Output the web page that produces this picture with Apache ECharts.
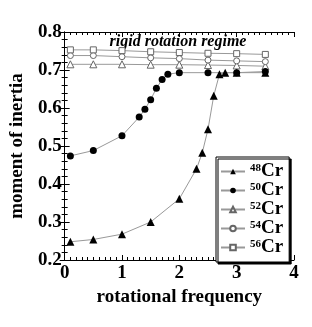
<!DOCTYPE html>
<html><head><meta charset="utf-8">
<script src="https://cdn.jsdelivr.net/npm/echarts@6/dist/echarts.min.js"></script>
<style>html,body{margin:0;padding:0;background:#fff}#c{width:312px;height:327px}</style>
</head><body><div id="c"></div>
<script>
const names = ['48Cr','50Cr','52Cr','54Cr','56Cr'];
const x48 = [0.1,0.5,1.0,1.5,2.0,2.3,2.4,2.5,2.6,2.7,2.8,3.0,3.5];
const y48 = [0.248,0.254,0.268,0.300,0.361,0.440,0.482,0.544,0.632,0.689,0.693,0.693,0.693];
const x50 = [0.1,0.5,1.0,1.3,1.4,1.5,1.6,1.7,1.8,2.0,2.5,3.0,3.5];
const y50 = [0.474,0.488,0.527,0.576,0.597,0.622,0.652,0.675,0.689,0.693,0.693,0.693,0.696];
const xOpen = [0.1,0.5,1.0,1.5,2.0,2.5,3.0,3.5];
const y52 = [0.715,0.715,0.715,0.714,0.714,0.713,0.712,0.710];
const y54 = [0.738,0.738,0.735,0.732,0.730,0.726,0.724,0.722];
const y56 = [0.753,0.753,0.751,0.748,0.746,0.744,0.743,0.741];
const xTicks = [0,1,2,3,4];
const yTicks = [0.2,0.3,0.4,0.5,0.6,0.7,0.8];
const titleText = 'rigid rotation regime';

const FONT = 'Liberation Serif';
const pair = (xs, ys) => xs.map((v,i)=>[v, ys[i]]);
const lineStyle = {color:'#999', width:1};
function mk(name, data, symbol, size, filled){
  return {
    name, type:'line', data, symbol, symbolSize:size, showSymbol:true,
    lineStyle, z: filled?3:2,
    itemStyle: filled ? {color:'#000', borderColor:'#000', borderWidth:0}
                      : {color:'#fff', borderColor:'#666', borderWidth:1},
    emphasis:{disabled:true}
  };
}
const chart = echarts.init(document.getElementById('c'));
const axisCommon = {
  axisLine:{lineStyle:{color:'#000', width:1}},
  splitLine:{show:false}
};
chart.setOption({
  animation:false,
  backgroundColor:'#fff',
  grid:{left:64, top:32, width:230, height:228},
  graphic:[{type:'text', style:{x:178, y:42, text:titleText, align:'center', verticalAlign:'middle',
    font:'italic bold 16px "Liberation Serif"', fill:'#000'}}],
  legend:{
    orient:'vertical', left:216, top:157,
    data:names,
    padding:[5,6,5,4], itemGap:0, itemWidth:24, itemHeight:7,
    backgroundColor:'#fff', borderColor:'#000', borderWidth:1,
    shadowColor:'#000', shadowBlur:0, shadowOffsetX:2, shadowOffsetY:2,
    formatter: n => '{s|' + n.slice(0,2) + '}{e|' + n.slice(2) + '}',
    textStyle:{
      rich:{
        s:{fontFamily:FONT, fontWeight:'bold', fontSize:11, color:'#000', verticalAlign:'top', lineHeight:17, padding:[0,0,6,0]},
        e:{fontFamily:FONT, fontWeight:'bold', fontSize:19, color:'#000', lineHeight:17}
      }
    }
  },
  xAxis:[{
    type:'value', min:xTicks[0], max:xTicks[xTicks.length-1], interval:1, position:'bottom',
    ...axisCommon,
    axisTick:{inside:true, length:5, lineStyle:{color:'#000'}},
    minorTick:{show:true, splitNumber:10, length:3, lineStyle:{color:'#000'}},
    axisLabel:{fontFamily:FONT, fontWeight:'bold', fontSize:19, color:'#000', margin:4},
    name:'rotational frequency', nameLocation:'middle', nameGap:22,
    nameTextStyle:{fontFamily:FONT, fontWeight:'bold', fontSize:19, color:'#000'}
  },{
    type:'value', min:xTicks[0], max:xTicks[xTicks.length-1], interval:1, position:'top',
    ...axisCommon,
    axisTick:{inside:true, length:5, lineStyle:{color:'#000'}},
    minorTick:{show:true, splitNumber:10, length:3, lineStyle:{color:'#000'}},
    axisLabel:{show:false}
  }],
  yAxis:[{
    type:'value', min:yTicks[0], max:yTicks[yTicks.length-1], interval:0.1, position:'left',
    ...axisCommon,
    axisTick:{inside:true, length:5, lineStyle:{color:'#000'}},
    minorTick:{show:true, splitNumber:5, length:3, lineStyle:{color:'#000'}},
    axisLabel:{fontFamily:FONT, fontWeight:'bold', fontSize:19, color:'#000', margin:3,
      formatter:v=>v.toFixed(1)},
    name:'moment of inertia', nameLocation:'middle', nameGap:36, nameRotate:90,
    nameTextStyle:{fontFamily:FONT, fontWeight:'bold', fontSize:19, color:'#000'}
  },{
    type:'value', min:yTicks[0], max:yTicks[yTicks.length-1], interval:0.1, position:'right',
    ...axisCommon,
    axisTick:{inside:true, length:5, lineStyle:{color:'#000'}},
    minorTick:{show:true, splitNumber:5, length:3, lineStyle:{color:'#000'}},
    axisLabel:{show:false}
  }],
  series:[
    mk(names[0], pair(x48,y48), 'triangle', 8, true),
    mk(names[1], pair(x50,y50), 'circle', 7, true),
    mk(names[2], pair(xOpen,y52), 'triangle', 7, false),
    mk(names[3], pair(xOpen,y54), 'circle', 6, false),
    mk(names[4], pair(xOpen,y56), 'rect', 6, false)
  ]
});
</script></body></html>
